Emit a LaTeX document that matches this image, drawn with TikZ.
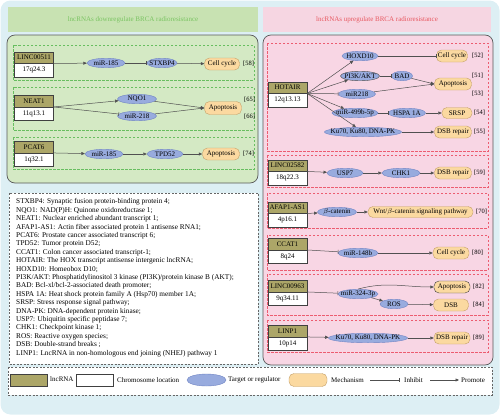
\documentclass[tikz,border=0pt]{standalone}
\usepackage{fontspec}
\setmainfont{Liberation Serif}
\usetikzlibrary{positioning, shapes.geometric, arrows.meta}
\definecolor{bgblue}{RGB}{221,239,244}
\definecolor{greenhead}{RGB}{200,226,178}
\definecolor{greenfill}{RGB}{212,233,196}
\definecolor{greendash}{RGB}{104,190,96}
\definecolor{greentext}{RGB}{122,196,98}
\definecolor{pinkhead}{RGB}{246,214,226}
\definecolor{pinkfill}{RGB}{248,214,228}
\definecolor{reddash}{RGB}{236,92,112}
\definecolor{redtext}{RGB}{232,88,96}
\definecolor{olivebox}{RGB}{172,166,104}
\definecolor{lavender}{RGB}{152,171,222}
\definecolor{lavedge}{RGB}{112,132,196}
\definecolor{mechfill}{RGB}{251,217,160}
\definecolor{mechedge}{RGB}{196,160,104}
\definecolor{linkgray}{RGB}{80,80,80}
\tikzset{
        promote/.style={draw=linkgray, line width=0.5pt, -{Triangle[length=3.5pt,width=3pt]}}, % arrow for promotion
        inhibit/.style={draw=linkgray, line width=0.5pt, -{Bar[width=4pt]}}, % flat end for inhibition
        region/.style={draw=black!65, line width=0.7pt, rounded corners=8pt}, % big rounded panels
        greensec/.style={draw=greendash, line width=0.6pt, dash pattern=on 2.5pt off 1.5pt}, % green dashed groups
        pinksec/.style={draw=reddash, line width=0.6pt, dash pattern=on 2.5pt off 1.5pt}, % red dashed groups
        framebox/.style={draw=black!60, fill=white, line width=0.6pt, dash pattern=on 2pt off 1.5pt}, % glossary and legend
    }
\tikzstyle{lnc}=[draw=black!75,fill=olivebox,minimum width=39pt,minimum height=11.5pt,inner sep=0pt,font=\fontsize{7}{8}\selectfont]
\tikzstyle{loc}=[draw=black!75,fill=white,minimum width=39pt,minimum height=13.5pt,inner sep=0pt,font=\fontsize{7}{8}\selectfont]
\tikzstyle{target}=[ellipse,draw=lavedge,fill=lavender,minimum width=38pt,minimum height=9.5pt,inner xsep=-5pt,inner ysep=-0.5pt,font=\fontsize{7}{8}\selectfont]
\tikzstyle{mech}=[rectangle,rounded corners=5pt,draw=mechedge,fill=mechfill,minimum width=36pt,minimum height=12pt,inner sep=1pt,font=\fontsize{7}{8}\selectfont]
\tikzstyle{ref}=[inner sep=0pt,font=\fontsize{6.5}{7}\selectfont]
\tikzstyle{keytext}=[inner sep=0pt,anchor=west,font=\fontsize{7}{8}\selectfont]
\tikzstyle{head}=[inner sep=0pt,font=\fontsize{7}{8}\selectfont]
\begin{document}
\begin{tikzpicture}[x=1pt, y=-1pt]
    \useasboundingbox (0,0) rectangle (500,415);
    % panels
    \fill[bgblue, rounded corners=10pt] (0.5,0.5) rectangle (499.5,414.5);
    \fill[greenhead] (8,7) rectangle (258,32);
    \fill[pinkhead] (263,7) rectangle (491,32);
    \node[head, text=greentext] (downhead) at (133,19.5) {lncRNAs downregulate BRCA radioresistance};
    \node[head, text=redtext] (uphead) at (377,19.5) {lncRNAs upregulate BRCA radioresistance};
    \draw[region, fill=greenfill] (7,35) rectangle (258,183);
    \draw[region, fill=pinkfill] (263,35) rectangle (493,365);
    \foreach \top/\bot in {45/80, 87/130, 137/169}
        \draw[greensec] (13,\top) rectangle (254,\bot);
    \foreach \top/\bot in {43/151, 155/187, 193/228, 235/270, 274/315, 320/352}
        \draw[pinksec] (267,\top) rectangle (488,\bot);
    \draw[framebox] (9,193) rectangle (258,364);
    \draw[framebox] (8,367) rectangle (492,395);

    % downregulating lncRNAs
    \node[lnc] (linc511) at (34,57.5) {LINC00511};
    \node[loc, below=0pt of linc511] (linc511loc) {17q24.3};
    \node[target] (mir185a) at (106,63) {miR-185};
    \node[target, minimum width=30pt] (stxbp4) at (162,63) {STXBP4};
    \node[mech, minimum width=35pt] (cellcyca) at (222,64) {Cell cycle};
    \node[ref, anchor=west] (r58) at (243,64) {[58]};

    \node[lnc] (neat1) at (34,101) {NEAT1};
    \node[loc, below=0pt of neat1] (neat1loc) {11q13.1};
    \node[target, minimum width=39pt] (nqo1) at (137,99) {NQO1};
    \node[target, minimum width=39pt] (mir218a) at (137,116) {miR-218};
    \node[mech, minimum width=37pt, minimum height=13pt] (apopa) at (223,108) {Apoptosis};
    \node[ref, anchor=west] (r65) at (244,100) {[65]};
    \node[ref, anchor=west] (r66) at (244,117) {[66]};

    \node[lnc] (pcat6) at (34,147) {PCAT6};
    \node[loc, below=0pt of pcat6] (pcat6loc) {1q32.1};
    \node[target] (mir185b) at (104,154) {miR-185};
    \node[target, minimum width=36pt] (tpd52) at (165,154) {TPD52};
    \node[mech, minimum width=37pt] (apopb) at (221,154) {Apoptosis};
    \node[ref, anchor=west] (r74) at (243,154) {[74]};

    \draw[promote] (linc511.south east) -- (mir185a);
    \draw[inhibit] (mir185a) -- (stxbp4);
    \draw[promote] (stxbp4) -- (cellcyca);
    \draw[promote] (neat1.south east) -- (nqo1);
    \draw[inhibit] (neat1.south east) -- (mir218a);
    \draw[promote] (nqo1) -- (apopa.west);
    \draw[promote] (mir218a) -- (apopa.west);
    \draw[promote] (pcat6.south east) -- (mir185b);
    \draw[promote] (mir185b) -- (tpd52);
    \draw[promote] (tpd52) -- (apopb);

    % upregulating lncRNAs
    \node[lnc] (hotair) at (287.5,87.5) {HOTAIR};
    \node[loc, below=0pt of hotair] (hotairloc) {12q13.13};
    \node[target, minimum width=36pt] (hoxd10) at (360,56) {HOXD10};
    \node[target, draw=black!70, minimum width=39pt] (pi3k) at (360,76) {PI3K/AKT};
    \node[target, minimum width=21pt] (bad) at (402,76) {BAD};
    \node[target, minimum width=37pt] (mir218b) at (357,94) {miR218};
    \node[target, minimum width=46pt] (mir499) at (355,113) {miR-499b-5p};
    \node[target, minimum width=37pt] (hspa) at (407,113) {HSPA 1A};
    \node[target, minimum width=72pt] (kua) at (363,132) {Ku70, Ku80, DNA-PK};
    \node[mech, minimum width=31pt] (cellcycb) at (452,56) {Cell cycle};
    \node[mech, minimum width=37pt] (apopc) at (453,84) {Apoptosis};
    \node[mech, minimum width=30pt, minimum height=11pt] (srsp) at (457,113) {SRSP};
    \node[mech, minimum width=37pt] (dsba) at (453,132) {DSB repair};
    \node[ref, anchor=west] (r52) at (472,56) {[52]};
    \node[ref, anchor=west] (r51) at (472,76) {[51]};
    \node[ref, anchor=west] (r53) at (472,94) {[53]};
    \node[ref, anchor=west] (r54) at (474,113) {[54]};
    \node[ref, anchor=west] (r55) at (474,132) {[55]};

    \node[lnc] (linc2582) at (287.5,165.5) {LINC02582};
    \node[loc, below=0pt of linc2582] (linc2582loc) {18q22.3};
    \node[target, minimum width=36pt] (usp7) at (345,173) {USP7};
    \node[target] (chk1) at (401,173) {CHK1};
    \node[mech, minimum width=37pt] (dsbb) at (453,173) {DSB repair};
    \node[ref, anchor=west] (r59) at (474,173) {[59]};

    \node[lnc] (afap1) at (287.5,207.5) {AFAP1-AS1};
    \node[loc, below=0pt of afap1] (afap1loc) {4p16.1};
    \node[target, minimum width=39pt] (bcat) at (337,212) {$\beta$-catenin};
    \node[mech, minimum width=105pt, minimum height=11pt] (wnt) at (420.5,212) {Wnt/$\beta$-catenin signaling pathway};
    \node[ref, anchor=west] (r70) at (476,212) {[70]};

    \node[lnc] (ccat1) at (287.5,244) {CCAT1};
    \node[loc, below=0pt of ccat1] (ccat1loc) {8q24};
    \node[target, minimum width=40pt] (mir148b) at (358,253) {miR-148b};
    \node[mech, minimum width=36pt] (cellcycc) at (451,253) {Cell cycle};
    \node[ref, anchor=west] (r80) at (472,253) {[80]};

    \node[lnc] (linc963) at (287.5,286) {LINC00963};
    \node[loc, below=0pt of linc963] (linc963loc) {9q34.11};
    \node[target, minimum width=40pt] (mir324) at (358,294) {miR-324-3p};
    \node[target, minimum width=28pt] (ros) at (394,304) {ROS};
    \node[mech, draw=black!75, minimum width=36pt] (apopd) at (452,287) {Apoptosis};
    \node[mech, minimum width=35pt] (dsbc) at (451,305) {DSB};
    \node[ref, anchor=west] (r82) at (473,287) {[82]};
    \node[ref, anchor=west] (r84) at (473,305) {[84]};

    \node[lnc] (linp1) at (287.5,331) {LINP1};
    \node[loc, below=0pt of linp1] (linp1loc) {10p14};
    \node[target, minimum width=79pt] (kub) at (368,338) {Ku70, Ku80, DNA-PK};
    \node[mech, minimum width=36pt] (dsbd) at (452,338) {DSB repair};
    \node[ref, anchor=west] (r89) at (473,338) {[89]};

    \draw[promote] (hotair.south east) -- (hoxd10);
    \draw[promote] (hotair.south east) -- (pi3k);
    \draw[inhibit] (hotair.south east) -- (mir218b);
    \draw[promote] (hotair.south east) -- (mir499);
    \draw[promote] (hotair.south east) -- (kua);
    \draw[inhibit] (hoxd10) -- (cellcycb);
    \draw[inhibit] (pi3k) -- (bad);
    \draw[promote] (bad) -- (apopc.west);
    \draw[promote] (mir218b) -- (apopc.west);
    \draw[inhibit] (mir499) -- (hspa);
    \draw[promote] (hspa) -- (srsp);
    \draw[promote] (kua) -- (dsba);
    \draw[promote] (linc2582.south east) -- (usp7);
    \draw[promote] (usp7) -- (chk1);
    \draw[promote] (chk1) -- (dsbb);
    \draw[promote] (afap1.south east) -- (bcat);
    \draw[promote] (bcat) -- (wnt);
    \draw[inhibit] (ccat1.south east) -- (mir148b);
    \draw[promote] (mir148b) -- (cellcycc);
    \draw[inhibit] (linc963.south east) -- (mir324);
    \draw[promote] (mir324.north) to[out=15, in=180] (apopd.west);
    \draw[promote] (mir324) -- (ros);
    \draw[promote] (ros) -- (dsbc);
    \draw[promote] (linp1.south east) -- (kub);
    \draw[promote] (kub) -- (dsbd);

    % glossary
    \node[anchor=north west, align=left, inner sep=0pt, font=\fontsize{7.3}{8.4}\selectfont] (glossary) at (16,198.5) {STXBP4: Synaptic fusion protein-binding protein 4;\\
        NQO1: NAD(P)H: Quinone oxidoreductase 1;\\
        NEAT1: Nuclear enriched abundant transcript 1;\\
        AFAP1-AS1: Actin fiber associated protein 1 antisense RNA1;\\
        PCAT6: Prostate cancer associated transcript 6;\\
        TPD52: Tumor protein D52;\\
        CCAT1: Colon cancer associated transcript-1;\\
        HOTAIR: The HOX transcript antisense intergenic lncRNA;\\
        HOXD10: Homeobox D10;\\
        PI3K/AKT: Phosphatidylinositol 3 kinase (PI3K)/protein kinase B (AKT);\\
        BAD: Bcl-xl/bcl-2-associated death promoter;\\
        HSPA 1A: Heat shock protein family A (Hsp70) member 1A;\\
        SRSP: Stress response signal pathway;\\
        DNA-PK: DNA-dependent protein kinase;\\
        USP7: Ubiquitin specific peptidase 7;\\
        CHK1: Checkpoint kinase 1;\\
        ROS: Reactive oxygen species;\\
        DSB: Double-strand breaks ;\\
        LINP1: LncRNA in non-homologous end joining (NHEJ) pathway 1};

    % legend
    \node[lnc, minimum width=37pt, minimum height=12pt] (keylnc) at (28.5,380) {};
    \node[keytext] (keylnctext) at (50,379) {lncRNA};
    \node[loc, minimum width=37pt, minimum height=12pt] (keyloc) at (94.5,380) {};
    \node[keytext] (keyloctext) at (117,380) {Chromosome location};
    \node[target, minimum width=39pt, minimum height=12pt] (keytarget) at (206.5,380) {};
    \node[keytext] (keytargettext) at (228,380) {Target or regulator};
    \node[mech, minimum width=38pt, minimum height=13pt] (keymech) at (308,380) {};
    \node[keytext] (keymechtext) at (331,380) {Mechanism};
    \coordinate (inhfrom) at (370,380);
    \coordinate (inhto) at (399,380);
    \draw[inhibit] (inhfrom) -- (inhto);
    \node[keytext] (keyinhtext) at (404,380) {Inhibit};
    \coordinate (profrom) at (430,380);
    \coordinate (proto) at (459,380);
    \draw[promote] (profrom) -- (proto);
    \node[keytext] (keyprotext) at (461,380) {Promote};
\end{tikzpicture}
\end{document}
